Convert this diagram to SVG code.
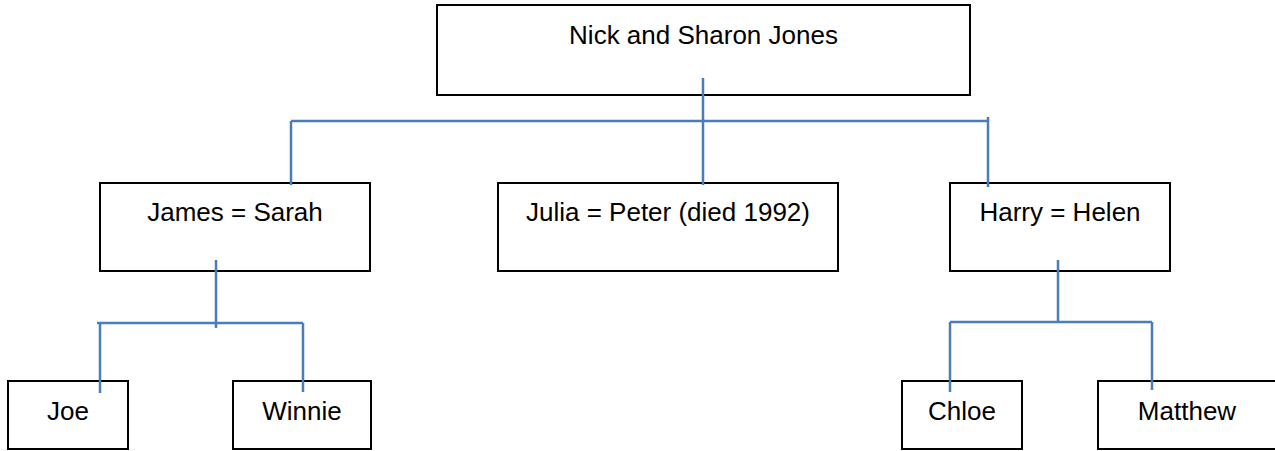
<svg xmlns="http://www.w3.org/2000/svg" width="1275" height="451" viewBox="0 0 1275 451">
<style>
.box{fill:#fff;stroke:#000;stroke-width:2}
.lbl{font-family:"Liberation Sans",Arial,sans-serif;font-size:26px;fill:#000;text-anchor:middle}
.conn{fill:none;stroke:#4a7ebb;stroke-width:2.5}
</style>
<rect x="0" y="0" width="1275" height="451" fill="#fff"/>
<g id="nick-sharon"><rect class="box" x="437" y="5" width="533" height="90"/><text class="lbl" x="703.5" y="44">Nick and Sharon Jones</text></g>
<g id="james-sarah"><rect class="box" x="100" y="183" width="270" height="88"/><text class="lbl" x="235" y="221">James = Sarah</text></g>
<g id="julia-peter"><rect class="box" x="498" y="183" width="340" height="88"/><text class="lbl" x="668" y="221">Julia = Peter (died 1992)</text></g>
<g id="harry-helen"><rect class="box" x="950" y="183" width="220" height="88"/><text class="lbl" x="1060" y="221">Harry = Helen</text></g>
<g id="joe"><rect class="box" x="8" y="381" width="120" height="68"/><text class="lbl" x="68" y="420">Joe</text></g>
<g id="winnie"><rect class="box" x="233" y="381" width="138" height="68"/><text class="lbl" x="302" y="420">Winnie</text></g>
<g id="chloe"><rect class="box" x="902" y="381" width="120" height="68"/><text class="lbl" x="962" y="420">Chloe</text></g>
<g id="matthew"><rect class="box" x="1098" y="381" width="185" height="68"/><text class="lbl" x="1187" y="420">Matthew</text></g>
<g id="connectors">
<path class="conn" d="M703 78V185M291 121H989M291 121V185M988 117V187"/>
<path class="conn" d="M216 260V328M97 323H303M100 323V393M303 323V392"/>
<path class="conn" d="M1058 260V322M950 322H1152M950 322V392M1152 322V390"/>
</g>
</svg>
